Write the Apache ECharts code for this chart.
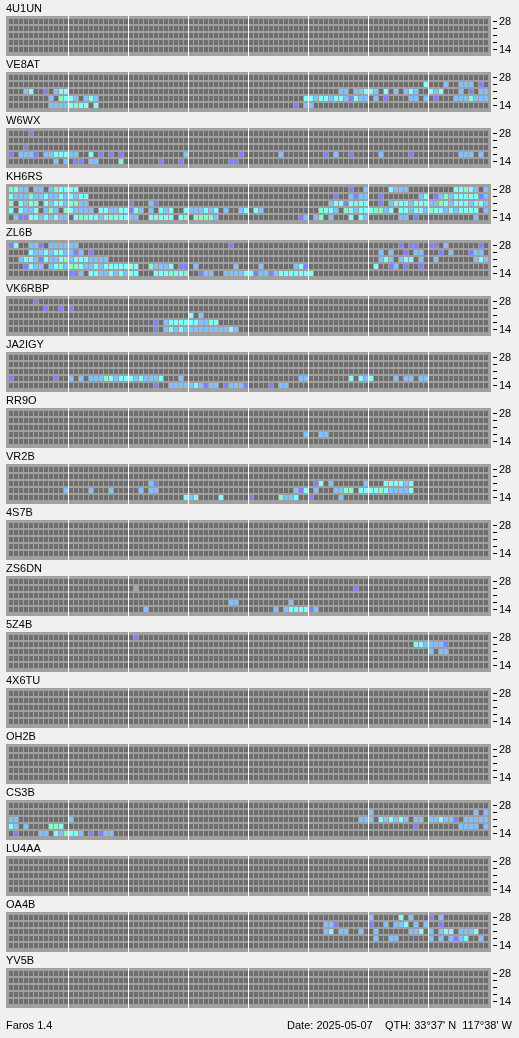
<!DOCTYPE html>
<html><head><meta charset="utf-8">
<script src="https://cdn.jsdelivr.net/npm/echarts@6/dist/echarts.min.js"></script>
<style>html,body{margin:0;padding:0;background:#f0f0f0}#c{width:519px;height:1038px}</style>
</head><body><div id="c"></div><script>
// Beacon stations, top to bottom
const stations = ['4U1UN','VE8AT','W6WX','KH6RS','ZL6B','VK6RBP','JA2IGY','RR9O','VR2B','4S7B','ZS6DN','5Z4B','4X6TU','OH2B','CS3B','LU4AA','OA4B','YV5B'];
// Bands (MHz), bottom row to top row
const bandTicks = [14, 18, 21, 24, 28];
const slotsPerDay = 96;          // 15-minute slots
const hourMarkSlots = [12, 24, 36, 48, 60, 72, 84]; // every 3 hours
// Signal level codes: p=weak, b, c, g=strong, x=other
const levelOf = {p: 1, b: 2, c: 3, g: 4, x: 5};

// Each station: rows from 28 MHz (top) down to 14 MHz (bottom); "slot+level"
const spots_4U1UN = ['', '', '', '', ''];
const spots_VE8AT = [
  '',
  '83c 87b 90b 91b 92b 94p',
  '3b 4c 7p 9b 10c 11c 66b 67b 69b 70b 71c 72c 73b 75c 77b 79b 80c 81b 84c 85b 86c 90b 92p 94b 95b',
  '8b 10g 11c 12c 13b 15b 16c 17b 59c 60c 61b 62c 63c 64b 65c 66c 67b 68p 69c 70b 71b 73b 75p 80b 81b 83b 85p 89b 90b 91b 92g 93b 94b 95b',
  '8b 9b 10b 11b 12c 13g 14c 15c 17c 57p 59b 60b'];
const spots_W6WX = [
  '4p',
  '',
  '3p',
  '0p 2b 3b 4b 5p 7b 8b 9c 10c 11c 12b 13b 16c 18p 20p 22p 35b 46p 54b 63p 65b 68p 74b 80p 90b 91b 92b 94b',
  '9b 11b 13p 14p 16b 17b 22g 30p 34p 44p 45p'];
const spots_KH6RS = [
  '0g 1c 2b 3b 5b 6b 8b 9g 10c 11c 12c 13c 68p 71b 76c 77b 78b 79b 89c 90c 91g 92c 93b 95b',
  '0c 1b 2b 3b 4g 5b 6b 7c 8b 9b 10c 11b 12c 13b 14c 15c 65p 68b 69p 70b 71b 74p 82b 83c 85p 86b 87g 88b 89c 90c 91c 92c 93c 94p 95b',
  '0g 2c 3b 4c 5g 7c 8b 9c 10c 11b 12c 13g 14b 15b 24p 28b 29p 64b 65c 66c 67p 68c 69g 70c 71c 74p 76b 77c 78c 79c 80b 81c 82c 83c 84b 85b 86g 87c 88b 89c 90c 91c 92b 93c 94c 95b',
  '0c 2c 3b 4b 5c 7b 8g 9b 11g 12c 13b 14b 15b 16b 18c 19c 20b 21b 22c 23c 24p 25c 26b 28b 30c 31b 32c 35c 36b 37b 38b 39c 40b 41c 43b 46b 47c 49c 50b 62g 63c 64c 65b 67g 68c 69b 70c 71c 72c 73g 74g 75b 76c 78c 79c 80b 81c 82c 83b 84g 85c 86c 87b 88c 89b 90c 91c 92c 93c 95b',
  '1b 2p 3p 4c 5c 6b 7c 8b 9c 10b 11b 13c 14g 15g 16c 17c 18b 19c 20g 21c 22c 23c 24b 25b 28c 29c 30c 31c 32c 34c 35g 37g 38g 39g 40g 41b 58p 59b 61b 62g 64b 68c 70c 71b 78b 79b 81p 93b'];
const spots_ZL6B = [
  '0p 1c 4b 5b 6p 8b 9b 10b 11b 12b 13b 44p 78p 80p 81p 84p 85p 87b 94p',
  '4c 5b 6b 7c 8b 9c 10c 11b 12b 13p 14b 16p 74b 76b 79p 81b 82b 86p 88b 92p 93b 94b',
  '2b 3c 4c 5b 6p 7c 8b 9b 10c 11g 12b 13c 14c 15c 16b 17b 18b 19b 74b 75c 76b 78b 79c 80c 82b 85b 93b 94c 95b',
  '3p 4c 5b 6b 8b 9c 10g 11b 12g 13g 14c 15b 16b 17c 18b 19c 20c 21c 22c 23c 24c 25c 28g 29b 30b 31b 32c 34p 35p 37b 45b 50b 57b 58c 59p 73c 76p 77b 79p 82p',
  '12p 13p 14b 16c 17c 18b 19b 20c 21b 22c 23b 24c 25c 29c 30c 31c 32g 33c 34c 35g 38p 39b 40b 43b 44b 45b 46b 47c 48c 49p 50b 51b 52p 53b 54c 55c 56c 57c 58c 59c 60c'];
const spots_VK6RBP = [
  '5p',
  '7p 10p 12p',
  '36c 38b',
  '29p 31b 32c 33c 34c 35c 36c 37c 38b 39b 40c 41c',
  '29p 31b 32c 33b 34c 35b 36b 37b 38b 39b 40b 41b 42b 43b 44c 45b'];
const spots_JA2IGY = [
  '', '', '',
  '0p 9p 12b 14b 16b 17b 18b 19g 20c 21b 22c 23c 24c 25b 26c 27b 28b 29b 30c 34b 58b 59b 68c 70c 71b 72c 77b 79b 80b 82b 83b',
  '29p 32b 33b 34b 35b 36b 37c 38b 39p 40b 41b 43p 44b 45b 46b 47p 52p 54b 55b'];
const spots_RR9O = ['', '', '', '59b 62b 63b', ''];
const spots_VR2B = [
  '', '',
  '28b 29p 61p 62c 64b 71b 75c 76c 77c 78c 79b 80c',
  '11b 16b 20b 26b 28b 29b 57b 58p 59c 61b 65b 66b 67g 68g 70c 71c 72c 73c 74g 75c 76b 77b 78b 79b 80c',
  '35c 36b 37c 42c 48p 54g 55b 56b 57c 60p 66b'];
const spots_4S7B = ['', '', '', '', ''];
const spots_ZS6DN = ['', '25x 69p', '', '44b 45b 56b', '27b 53b 55b 56c 57c 58c 59c 60p 61b'];
const spots_5Z4B = ['25p', '81c 82c 83b 84b 85b 86b 87p', '84b 86b 87b', '', ''];
const spots_4X6TU = ['', '', '', '', ''];
const spots_OH2B = ['', '', '', '', ''];
const spots_CS3B = [
  '',
  '72b 93b 95b',
  '0b 1b 12b 70b 71b 72b 74c 75b 76c 77b 78c 79b 81b 82b 84b 85b 86c 87b 88b 89p 91b 92b 93b 94b 95b',
  '0c 1b 3b 8g 9g 10c 81p 90b 91b 92b 93b 95b',
  '1p 6b 7b 9c 10b 11g 12c 13c 14b 16p 18p 19b 20b'];
const spots_LU4AA = ['', '', '', '', ''];
const spots_OA4B = [
  '72b 78c 80b 84p 86b',
  '63b 64b 65p 72p 75b 77b 78b 79c 81b 83b 86p',
  '63b 64c 66b 67b 70b 73b 80b 81b 82c 84b 86b 87c 88c 90b 91b 92b 93c',
  '73b 76b 77b 84b 86b 88b 89p 90b 91c 94b',
  ''];
const spots_YV5B = ['', '', '', '', ''];

const stationSpots = [spots_4U1UN, spots_VE8AT, spots_W6WX, spots_KH6RS, spots_ZL6B, spots_VK6RBP, spots_JA2IGY, spots_RR9O, spots_VR2B, spots_4S7B, spots_ZS6DN, spots_5Z4B, spots_4X6TU, spots_OH2B, spots_CS3B, spots_LU4AA, spots_OA4B, spots_YV5B];

const footerLeft = 'Faros 1.4';
const footerRight = "Date: 2025-05-07    QTH: 33°37' N  117°38' W";

// ---- styles ----
const cellColors = ['#6e6e6e', '#8080ff', '#80c0ff', '#80ffff', '#80ffc0', '#a8a8a8'];
const FONT = 'Liberation Sans, Arial, sans-serif';
const PANEL_LEFT = 6, PANEL_W = 485, PANEL_TOP0 = 16, PANEL_STEP = 56, PANEL_H = 40;

function cellsFor(rows) {
  const out = [];
  const nb = bandTicks.length;
  for (let ri = 0; ri < nb; ri++) {
    const r = nb - 1 - ri;
    const lv = new Array(slotsPerDay).fill(0);
    rows[ri].split(' ').filter(Boolean).forEach(t => { lv[parseInt(t, 10)] = levelOf[t.slice(-1)]; });
    for (let c = 0; c < slotsPerDay; c++) out.push([c, r, lv[c]]);
  }
  return out;
}

function renderCell(params, api) {
  const p = api.coord([api.value(0), api.value(1)]);
  const s = api.size([1, 1]);
  const w = s[0] - 1, h = s[1] - 2;
  return {
    type: 'rect',
    shape: { x: Math.round(p[0]), y: Math.round(p[1] - h / 2), width: Math.round(w), height: Math.round(h) },
    style: { fill: cellColors[api.value(2)] }
  };
}

const grids = [], xAxes = [], yAxes = [], series = [], titles = [];
stations.forEach((name, i) => {
  const top = PANEL_TOP0 + PANEL_STEP * i;
  grids.push({ left: PANEL_LEFT, top: top, width: PANEL_W, height: PANEL_H, show: true, backgroundColor: '#a0a0a0', borderWidth: 0 });
  xAxes.push({ gridIndex: i, type: 'value', min: -0.6, max: slotsPerDay + 0.4, show: false });
  yAxes.push({
    gridIndex: i, type: 'value', position: 'right', offset: 2,
    min: -6.5 / 7, max: 33.5 / 7,
    axisLine: { show: false },
    axisTick: { show: false },
    axisLabel: { customValues: [0, 4], margin: 6, fontSize: 11, fontFamily: FONT, color: '#000',
      formatter: v => (v === 0 || v === 4) ? String(bandTicks[Math.round(v)]) : '' },
    splitLine: { show: false }
  });
  series.push({
    type: 'custom', xAxisIndex: i, yAxisIndex: i, renderItem: renderCell,
    data: cellsFor(stationSpots[i]), silent: true, z: 2
  });
  series.push({
    type: 'line', xAxisIndex: i, yAxisIndex: i, data: [], silent: true, z: 5,
    markLine: {
      silent: true, symbol: ['none', 'none'], label: { show: false },
      lineStyle: { color: '#ffffff', width: 1, type: 'solid' },
      emphasis: { disabled: true },
      data: hourMarkSlots.map(b => ({ xAxis: b - 0.1 }))
    }
  });
  titles.push({ text: name, left: PANEL_LEFT, top: top - 13, padding: 0,
    textStyle: { fontSize: 11, fontWeight: 'normal', fontFamily: FONT, color: '#000' } });
});
titles.push({ text: footerLeft, left: 6, top: 1020, padding: 0,
  textStyle: { fontSize: 11, fontWeight: 'normal', fontFamily: FONT, color: '#000' } });
titles.push({ text: footerRight, right: 7, top: 1020, padding: 0,
  textStyle: { fontSize: 11, fontWeight: 'normal', fontFamily: FONT, color: '#000' } });

const chart = echarts.init(document.getElementById('c'), null, { renderer: 'canvas' });
chart.setOption({
  backgroundColor: '#f0f0f0',
  animation: false,
  title: titles,
  grid: grids,
  xAxis: xAxes,
  yAxis: yAxes,
  series: series
});

// Band tick marks on the right of each panel, placed through each panel's y axis scale
const tickGraphics = [];
stations.forEach((name, i) => {
  const xRight = chart.convertToPixel({ xAxisIndex: i }, slotsPerDay + 0.4);
  bandTicks.forEach((b, r) => {
    const y = Math.floor(chart.convertToPixel({ yAxisIndex: i }, r)) + 0.5;
    tickGraphics.push({
      type: 'line', silent: true,
      shape: { x1: xRight + 2, y1: y, x2: xRight + 6, y2: y },
      style: { stroke: '#000', lineWidth: 1 }
    });
  });
});
chart.setOption({ graphic: tickGraphics });
</script></body></html>
